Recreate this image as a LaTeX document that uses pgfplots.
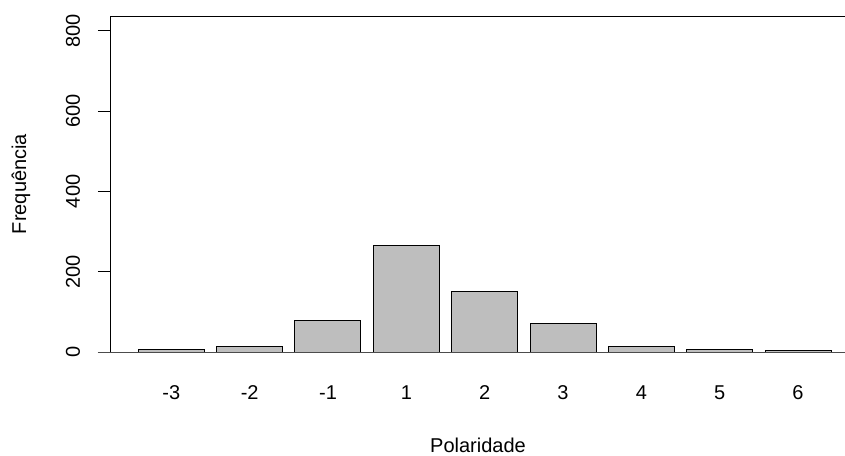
\documentclass[border=0pt]{standalone}
\usepackage{fontspec}
\setmainfont{Liberation Sans}
\usepackage{pgfplots}
\pgfplotsset{compat=1.18}
\definecolor{rgray}{HTML}{BEBEBE}
\begin{document}
\begin{tikzpicture}[x=1pt,y=1pt]
\path[use as bounding box] (-111,-103) rectangle (734,352);
\begin{axis}[
  at={(0,0)}, anchor=south west,
  scale only axis, width=734pt, height=336pt,
  xmin=-0.77, xmax=8.60, ymin=0, ymax=837,
  axis line style={draw=none},
  font=\fontsize{20}{24}\selectfont,
  /pgf/number format/assume math mode=true,
  xtick={0,...,8}, xticklabels={-3,-2,-1,1,2,3,4,5,6},
  xtick style={draw=none},
  xticklabel style={anchor=center, yshift=-41pt},
  ytick={0,200,400,600,800},
  ytick align=outside,
  ytick style={line width=1pt, black},
  major tick length=13pt,
  yticklabel style={rotate=90, anchor=center, yshift=25pt},
  xlabel={Polaridade},
  xlabel style={at={(axis description cs:0.5,0)}, anchor=center, yshift=-93pt},
  ylabel={Frequência},
  ylabel style={at={(axis description cs:0,0.5)}, anchor=center, yshift=90pt},
  clip=false,
]
\addplot[ybar, bar width=66pt, bar shift=0pt, fill=rgray, draw=black, line width=1pt]
  coordinates {(0,7) (1,14) (2,79) (3,265) (4,150) (5,72) (6,14) (7,7) (8,3)};
\draw[line width=1pt] (rel axis cs:0,0) -- (rel axis cs:0,1) -- (rel axis cs:1,1);
\draw[line width=1pt, black!70] ([xshift=-13pt]rel axis cs:0,0) -- (rel axis cs:1,0);
\end{axis}
\end{tikzpicture}
\end{document}
